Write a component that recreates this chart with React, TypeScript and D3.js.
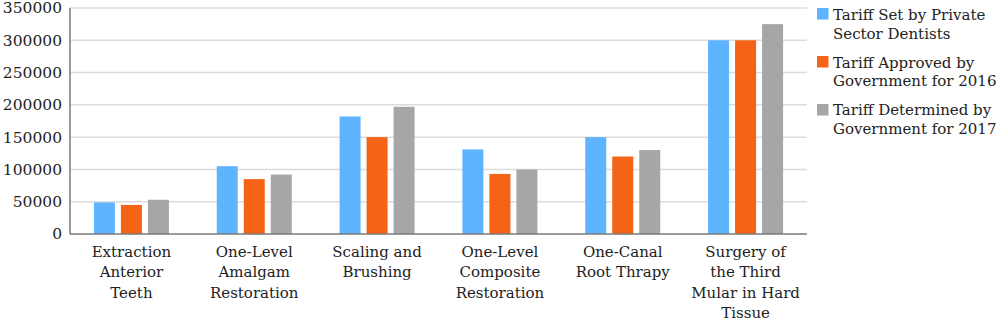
import React from "react";
import * as d3 from "d3";

const categories: string[][] = [
  ["Extraction", "Anterior", "Teeth"],
  ["One-Level", "Amalgam", "Restoration"],
  ["Scaling and", "Brushing"],
  ["One-Level", "Composite", "Restoration"],
  ["One-Canal", "Root Thrapy"],
  ["Surgery of", "the Third", "Mular in Hard", "Tissue"],
];
const privateSector = [49000, 105000, 182000, 131000, 150000, 300000];
const approved2016 = [45000, 85000, 150000, 93000, 120000, 300000];
const determined2017 = [53000, 92000, 197000, 100000, 130000, 325000];
const seriesNames: string[][] = [
  ["Tariff Set by Private", "Sector Dentists"],
  ["Tariff Approved by", "Government for 2016"],
  ["Tariff Determined by", "Government for 2017"],
];
const colors = ["#5EB4FE", "#F56316", "#A6A6A6"];
const yTicks = [0, 50000, 100000, 150000, 200000, 250000, 300000, 350000];

export default function App() {
  const W = 1000, H = 333;
  const left = 70, right = 807, top = 8, bottom = 234;
  const font = "'DejaVu Serif', serif";
  const series = [privateSector, approved2016, determined2017];
  const x = d3.scaleBand<number>().domain(d3.range(categories.length)).range([left, right]);
  const y = d3.scaleLinear().domain([0, 350000]).range([bottom, top]);
  const barW = 21, gap = 6;
  return (
    <svg width={W} height={H} style={{ position: "absolute", left: 0, top: 0 }}>
      <rect width={W} height={H} fill="#fff" />
      {yTicks.map((t) => (
        <g key={t}>
          {t > 0 && <line x1={left} x2={right} y1={y(t)} y2={y(t)} stroke="#dcdcdc" strokeWidth={1.5} />}
          <text x={62} y={y(t)} dy="0.35em" textAnchor="end" fontFamily={font} fontSize={15.5} fill="#222">
            {t}
          </text>
        </g>
      ))}
      {categories.map((c, i) => {
        const cx = (x(i) as number) + x.bandwidth() / 2;
        return (
          <g key={i}>
            {series.map((s, j) => {
              const bx = cx - (3 * barW + 2 * gap) / 2 + j * (barW + gap);
              return <rect key={j} x={bx} y={y(s[i])} width={barW} height={y(0) - y(s[i])} fill={colors[j]} />;
            })}
            {c.map((line, k) => (
              <text key={k} x={cx} y={257 + k * 20.3} textAnchor="middle" fontFamily={font} fontSize={15} fill="#222">
                {line}
              </text>
            ))}
          </g>
        );
      })}
      <line x1={left} x2={left} y1={top} y2={bottom} stroke="#7a7a7a" strokeWidth={1.5} />
      <line x1={left} x2={right} y1={bottom} y2={bottom} stroke="#7a7a7a" strokeWidth={1.5} />
      {seriesNames.map((n, j) => (
        <g key={j}>
          <rect x={817} y={8 + j * 48} width={11.5} height={11.5} fill={colors[j]} />
          {n.map((line, k) => (
            <text key={k} x={833} y={20 + j * 47.5 + k * 18.5} fontFamily={font} fontSize={15} fill="#222">
              {line}
            </text>
          ))}
        </g>
      ))}
    </svg>
  );
}
